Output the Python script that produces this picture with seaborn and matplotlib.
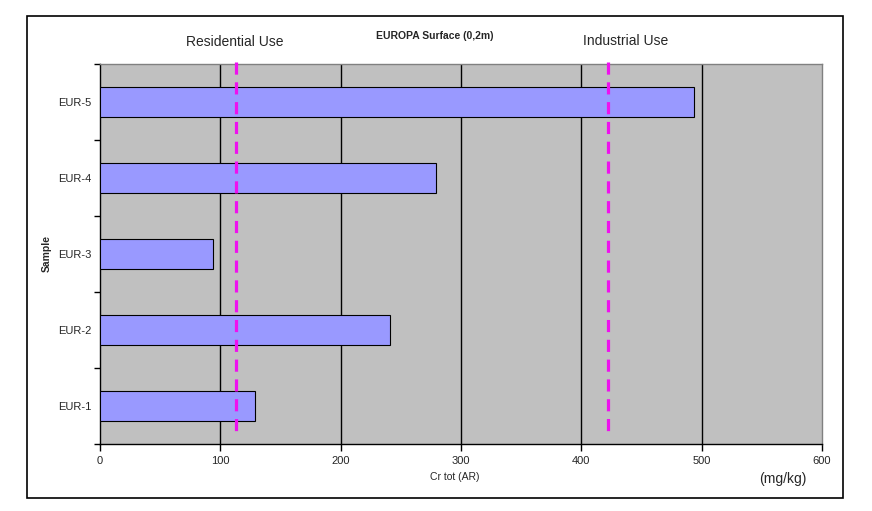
import matplotlib
matplotlib.use("Agg")
import matplotlib.pyplot as plt
import seaborn as sns
import pandas as pd
import numpy as np
from matplotlib.patches import Rectangle

samples = ["EUR-5", "EUR-4", "EUR-3", "EUR-2", "EUR-1"]
cr_tot = [494, 279, 94, 241, 129]
residential_limit = 113
industrial_limit = 422
x_ticks = [0, 100, 200, 300, 400, 500, 600]

sns.set_style("white")
plt.rcParams["font.family"] = ["Liberation Sans", "DejaVu Sans"]

df = pd.DataFrame({"Sample": samples, "Cr": cr_tot})

fig = plt.figure(figsize=(8.72, 5.11), dpi=100)
fig.patches.append(Rectangle((27/872, 1-498/511), (843-27)/872, (498-16)/511,
                             transform=fig.transFigure, fill=False,
                             edgecolor="black", linewidth=1.2, zorder=0))
ax = fig.add_axes([100/872, 1-444/511, 722/872, 380/511])
ax.set_facecolor("#C0C0C0")

sns.barplot(data=df, x="Cr", y="Sample", order=samples, orient="h",
            color="#9999FF", saturation=1, width=0.4,
            edgecolor="black", linewidth=0.8, ax=ax, zorder=3)

ax.set_xlim(0, 600)
ax.set_ylim(4.5, -0.5)
ax.set_xticks(x_ticks)
ax.set_xticklabels([str(t) for t in x_ticks], fontsize=8)
for t in x_ticks[1:-1]:
    ax.axvline(t, color="black", linewidth=1, zorder=1)

ax.set_yticks(range(len(samples)))
ax.set_yticklabels(samples, fontsize=8)
ax.tick_params(axis="y", which="major", length=0, pad=6)
ax.set_yticks(np.arange(-0.5, len(samples), 1), minor=True)
ax.tick_params(axis="y", which="minor", length=4, width=1, color="black", left=True)
ax.tick_params(axis="x", which="major", length=5, width=1, color="black",
               bottom=True, pad=4)

for side in ["left", "bottom"]:
    ax.spines[side].set_color("black")
    ax.spines[side].set_linewidth(1)
for side in ["top", "right"]:
    ax.spines[side].set_color("#808080")
    ax.spines[side].set_linewidth(1)

for lim in [residential_limit, industrial_limit]:
    ax.plot([lim, lim], [-0.53, 4.38], color="#EE11EE", linewidth=2.3,
            dashes=(3.8, 2.4), clip_on=False, zorder=5)

ax.set_xlabel("")
ax.set_ylabel("")
fig.text(47/872, 1-253/511, "Sample", rotation=90, fontsize=7.5,
         fontweight="bold", ha="center", va="center")
fig.text(455/872, 1-477/511, "Cr tot (AR)", fontsize=7.5, ha="center", va="center")
fig.text(783/872, 1-479/511, "(mg/kg)", fontsize=10, ha="center", va="center")
fig.text(435/872, 1-36/511, "EUROPA Surface (0,2m)", fontsize=7.5,
         fontweight="bold", ha="center", va="center")
fig.text(235/872, 1-42/511, "Residential Use", fontsize=10, ha="center", va="center")
fig.text(626/872, 1-41/511, "Industrial Use", fontsize=10, ha="center", va="center")

fig.savefig("out.png", dpi=100)
